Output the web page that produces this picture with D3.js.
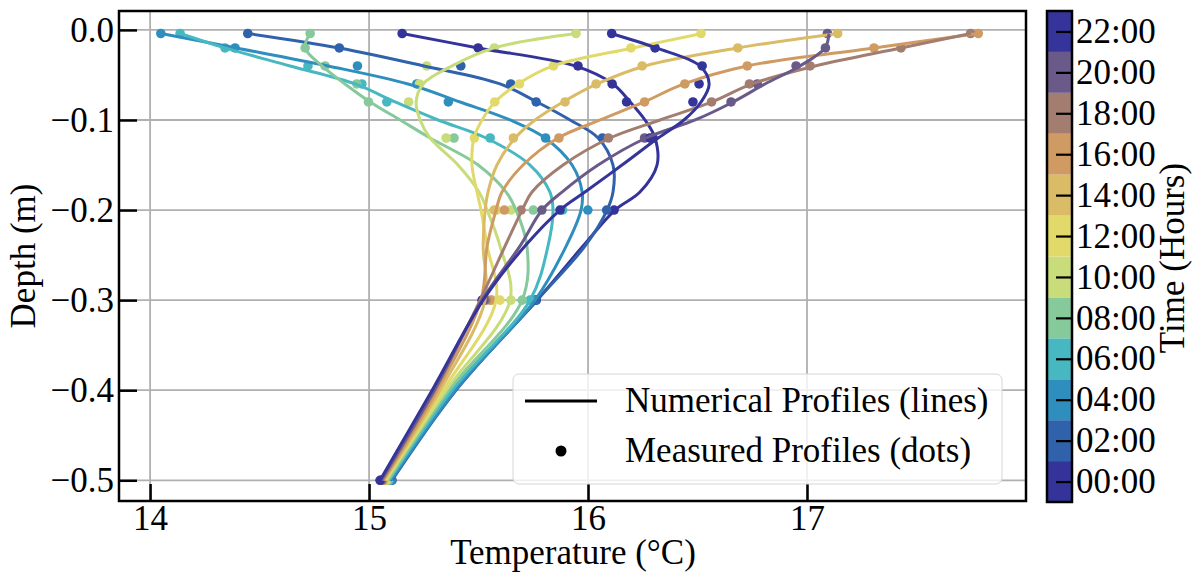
<!DOCTYPE html>
<html>
<head>
<meta charset="utf-8">
<script src="https://cdn.jsdelivr.net/npm/d3@7"></script>
<style>
  body { margin: 0; background: #fff; }
  svg text { font-family: "Liberation Serif", "Times New Roman", serif; fill: #000; }
</style>
</head>
<body>
<svg id="chart" width="1198" height="573"></svg>
<script>
// time steps and colours (one profile every 2 hours)
var times = ["00:00", "02:00", "04:00", "06:00", "08:00", "10:00",
  "12:00", "14:00", "16:00", "18:00", "20:00", "22:00"];
var hours = [0, 2, 4, 6, 8, 10, 12, 14, 16, 18, 20, 22];
var colors = ["#34339a", "#2f62ab", "#2e8fbf", "#47b8c1", "#86c99b", "#c8dc7a",
  "#e1da6b", "#dabb66", "#d09b62", "#a37d6f", "#6a5a89", "#34349a"];

// measured profiles (dots)
var measuredDepth = [-0.004, -0.02, -0.04, -0.06, -0.08, -0.12, -0.2, -0.3, -0.5];
var meas00 = [15.151, 15.498, 15.954, 16.110, 16.176, 16.297, 16.119, 15.763, 15.096];
var meas02 = [14.446, 14.864, 15.419, 15.647, 15.763, 16.066, 16.085, 15.763, 15.105];
var meas04 = [14.049, 14.388, 14.947, 15.218, 15.362, 15.806, 15.999, 15.753, 15.100];
var meas06 = [14.137, 14.342, 14.721, 14.967, 15.081, 15.553, 15.884, 15.735, 15.091];
var meas08 = [14.731, 14.708, 14.799, 14.944, 14.997, 15.388, 15.750, 15.699, 15.087];
var meas10 = [15.945, 15.572, 15.263, 15.230, 15.181, 15.352, 15.648, 15.648, 15.078];
var meas12 = [16.516, 16.196, 15.842, 15.687, 15.574, 15.481, 15.584, 15.598, 15.073];
var meas14 = [17.140, 16.684, 16.247, 16.037, 15.895, 15.659, 15.571, 15.562, 15.068];
var meas16 = [17.782, 17.306, 16.727, 16.442, 16.258, 15.867, 15.618, 15.553, 15.064];
var meas18 = [17.747, 17.429, 17.014, 16.737, 16.564, 16.093, 15.694, 15.534, 15.059];
var meas20 = [17.093, 17.084, 16.950, 16.773, 16.653, 16.258, 15.789, 15.525, 15.055];
var meas22 = [16.108, 16.306, 16.521, 16.507, 16.479, 16.283, 15.872, 15.516, 15.050];

// numerical profiles (lines)
var modelDepth = [-0.004, -0.02, -0.04, -0.06, -0.08, -0.10, -0.12, -0.15, -0.18, -0.20, -0.24, -0.30, -0.40, -0.50];
var model00 = [15.151, 15.498, 15.941, 16.114, 16.192, 16.260, 16.306, 16.315, 16.237, 16.123, 15.977, 15.767, 15.393, 15.096];
var model02 = [14.447, 14.863, 15.251, 15.598, 15.767, 15.918, 16.046, 16.114, 16.114, 16.087, 15.986, 15.767, 15.397, 15.105];
var model04 = [14.050, 14.393, 14.813, 15.178, 15.416, 15.644, 15.804, 15.927, 15.973, 15.968, 15.900, 15.758, 15.393, 15.100];
var model06 = [14.137, 14.342, 14.639, 14.936, 15.119, 15.315, 15.534, 15.735, 15.826, 15.840, 15.817, 15.735, 15.379, 15.091];
var model08 = [14.731, 14.708, 14.785, 14.890, 15.005, 15.142, 15.279, 15.498, 15.626, 15.671, 15.721, 15.699, 15.365, 15.087];
var model10 = [15.945, 15.571, 15.379, 15.247, 15.215, 15.233, 15.279, 15.406, 15.502, 15.539, 15.598, 15.644, 15.352, 15.078];
var model12 = [16.521, 16.205, 15.840, 15.680, 15.575, 15.516, 15.479, 15.470, 15.493, 15.511, 15.539, 15.580, 15.338, 15.073];
var model14 = [17.142, 16.685, 16.260, 16.041, 15.886, 15.758, 15.667, 15.584, 15.543, 15.530, 15.521, 15.530, 15.324, 15.068];
var model16 = [17.781, 17.306, 16.726, 16.438, 16.256, 16.055, 15.863, 15.703, 15.607, 15.580, 15.539, 15.511, 15.311, 15.064];
var model18 = [17.749, 17.429, 17.037, 16.749, 16.566, 16.329, 16.100, 15.886, 15.744, 15.699, 15.621, 15.507, 15.301, 15.059];
var model20 = [17.100, 17.082, 16.968, 16.808, 16.662, 16.489, 16.265, 16.046, 15.881, 15.790, 15.689, 15.516, 15.297, 15.055];
var model22 = [16.105, 16.311, 16.511, 16.553, 16.516, 16.438, 16.320, 16.155, 15.986, 15.872, 15.712, 15.521, 15.288, 15.050];

var measured = [meas00, meas02, meas04, meas06, meas08, meas10, meas12, meas14, meas16, meas18, meas20, meas22];
var models = [model00, model02, model04, model06, model08, model10, model12, model14, model16, model18, model20, model22];

var xTicks = [14, 15, 16, 17];
var yTicks = [0, -0.1, -0.2, -0.3, -0.4, -0.5];

var svg = d3.select("#chart");
var plotL = 119, plotR = 1026, plotT = 11, plotB = 501;
var fontSize = 35;
var serif = "'Liberation Serif', 'Times New Roman', serif";

var x = d3.scaleLinear().domain([13.858, 18.0]).range([plotL, plotR]);
var y = d3.scaleLinear().domain([0.021, -0.523]).range([plotT, plotB]);

// grid
var grid = svg.append("g");
grid.selectAll(".gx").data(xTicks).join("line")
  .attr("x1", d => x(d)).attr("x2", d => x(d))
  .attr("y1", plotT).attr("y2", plotB)
  .attr("stroke", "#b0b0b0").attr("stroke-width", 1.8);
grid.selectAll(".gy").data(yTicks).join("line")
  .attr("y1", d => y(d)).attr("y2", d => y(d))
  .attr("x1", plotL).attr("x2", plotR)
  .attr("stroke", "#b0b0b0").attr("stroke-width", 1.8);

// dots first (they sit under the lines)
var dots = svg.append("g");
measured.forEach(function (vals, i) {
  dots.append("g").selectAll("circle")
    .data(vals.map((t, k) => [t, measuredDepth[k]]))
    .join("circle")
    .attr("cx", d => x(d[0]))
    .attr("cy", d => y(d[1]))
    .attr("r", 4.8)
    .attr("fill", colors[i]);
});

var line = d3.line()
  .x(d => x(d[0]))
  .y(d => y(d[1]))
  .curve(d3.curveCatmullRom.alpha(0.5));

var lines = svg.append("g");
models.forEach(function (vals, i) {
  lines.append("path")
    .datum(vals.map((t, k) => [t, modelDepth[k]]))
    .attr("d", line)
    .attr("fill", "none")
    .attr("stroke", colors[i])
    .attr("stroke-width", 3);
});

// axes, ticks pointing inward
var xAxis = svg.append("g")
  .attr("transform", "translate(0," + plotB + ")")
  .call(d3.axisBottom(x).tickValues(xTicks).tickSize(-17).tickPadding(4).tickFormat(d3.format("d")));
var yAxis = svg.append("g")
  .attr("transform", "translate(" + plotL + ",0)")
  .call(d3.axisLeft(y).tickValues(yTicks).tickSize(-18).tickPadding(5).tickFormat(d3.format(".1f")));
[xAxis, yAxis].forEach(function (a) {
  a.select(".domain").remove();
  a.selectAll(".tick line").attr("stroke", "#000").attr("stroke-width", 2.5);
  a.selectAll(".tick text").attr("font-size", fontSize).style("font-family", serif);
});

// frame
svg.append("rect")
  .attr("x", plotL).attr("y", plotT)
  .attr("width", plotR - plotL).attr("height", plotB - plotT)
  .attr("fill", "none").attr("stroke", "#000").attr("stroke-width", 2.5);

// axis titles
svg.append("text")
  .attr("x", 573).attr("y", 564)
  .attr("text-anchor", "middle")
  .attr("font-size", fontSize)
  .text("Temperature (°C)");
svg.append("text")
  .attr("transform", "translate(35,256) rotate(-90)")
  .attr("text-anchor", "middle")
  .attr("font-size", fontSize)
  .text("Depth (m)");

// legend
var legend = svg.append("g");
legend.append("rect")
  .attr("x", 513).attr("y", 374).attr("width", 489).attr("height", 110)
  .attr("rx", 6)
  .attr("fill", "#fff").attr("fill-opacity", 0.8)
  .attr("stroke", "#d6d6d6").attr("stroke-width", 1);
legend.append("line")
  .attr("x1", 525).attr("x2", 597).attr("y1", 401).attr("y2", 401)
  .attr("stroke", "#000").attr("stroke-width", 3);
legend.append("circle")
  .attr("cx", 561).attr("cy", 451).attr("r", 5.5).attr("fill", "#000");
legend.append("text").attr("x", 625).attr("y", 412)
  .attr("font-size", fontSize).text("Numerical Profiles (lines)");
legend.append("text").attr("x", 625).attr("y", 462)
  .attr("font-size", fontSize).text("Measured Profiles (dots)");

// colorbar
var cbLeft = 1047, cbRight = 1072;
var cy = d3.scaleLinear().domain([-1, 23]).range([502, 11]);
var cbar = svg.append("g");
cbar.selectAll("rect").data(hours).join("rect")
  .attr("x", cbLeft).attr("width", cbRight - cbLeft)
  .attr("y", d => cy(d + 1)).attr("height", d => cy(d - 1) - cy(d + 1))
  .attr("fill", (d, i) => colors[i]);
cbar.append("rect")
  .attr("x", cbLeft).attr("y", cy(23)).attr("width", cbRight - cbLeft).attr("height", cy(-1) - cy(23))
  .attr("fill", "none").attr("stroke", "#000").attr("stroke-width", 2.5);
var cAxis = svg.append("g")
  .attr("transform", "translate(" + cbRight + ",0)")
  .call(d3.axisRight(cy).tickValues(hours).tickSize(-16).tickPadding(4)
    .tickFormat((d, i) => times[i]));
cAxis.select(".domain").remove();
cAxis.selectAll(".tick line").attr("stroke", "#000").attr("stroke-width", 2.2);
cAxis.selectAll(".tick text").attr("font-size", fontSize).style("font-family", serif);
svg.append("text")
  .attr("transform", "translate(1184,258) rotate(-90)")
  .attr("text-anchor", "middle")
  .attr("font-size", fontSize)
  .text("Time (Hours)");
</script>
</body>
</html>
